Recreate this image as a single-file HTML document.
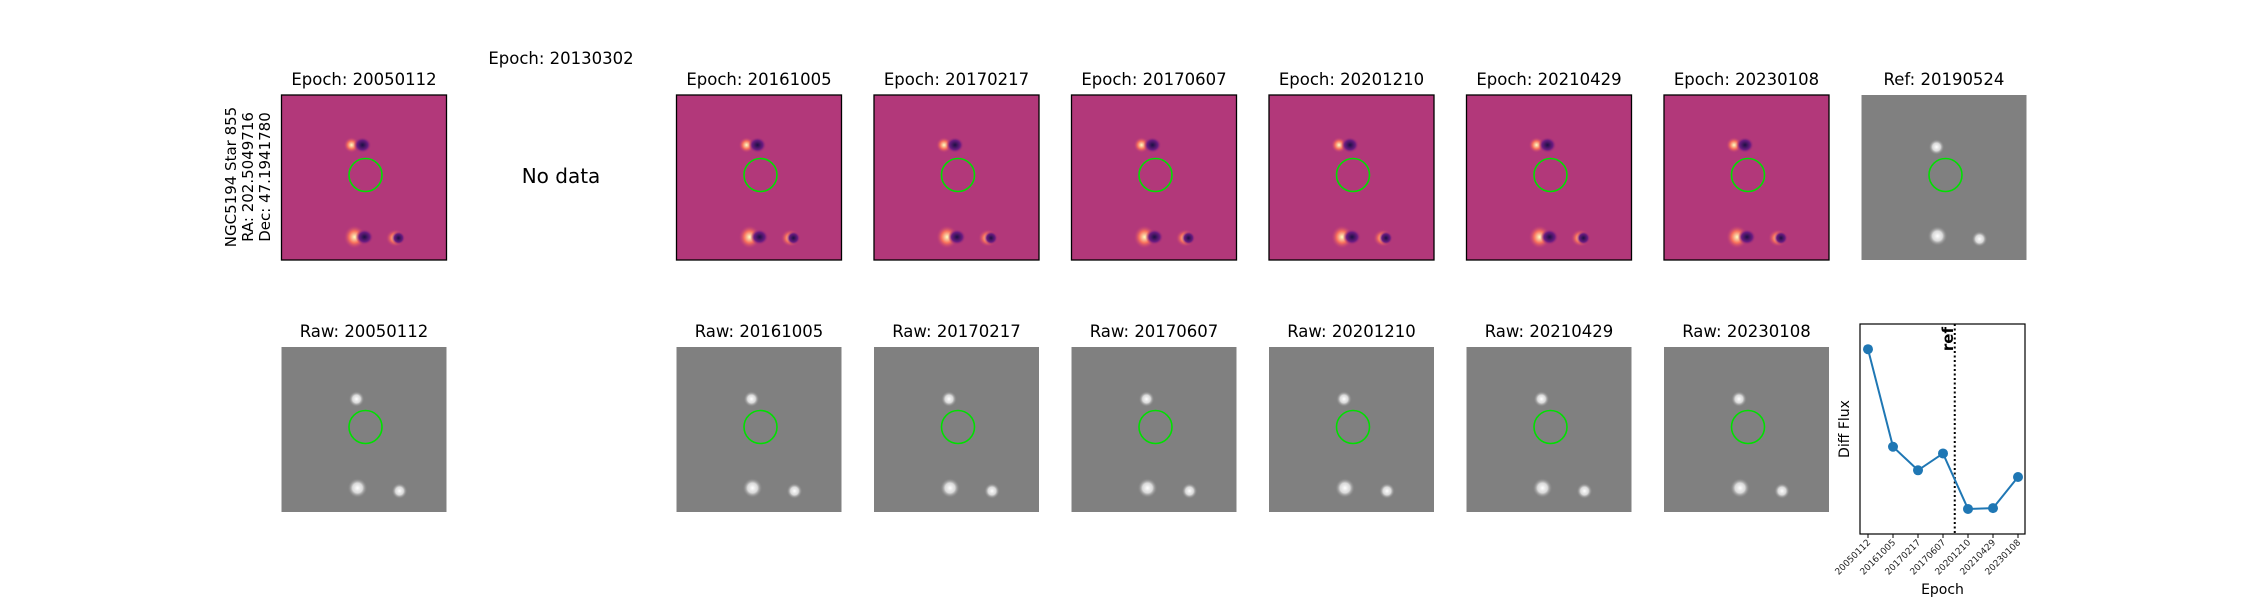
<!DOCTYPE html>
<html><head><meta charset="utf-8"><style>
html,body{margin:0;padding:0;background:#fff;}
svg{display:block;font-family:"DejaVu Sans","Liberation Sans",sans-serif;}
</style></head><body>
<svg id="fig" width="2250" height="600" viewBox="0 0 2250 600">
<defs>
<radialGradient id="bright"><stop offset="0" stop-color="#fff"/><stop offset="0.5" stop-color="#d8d8d8"/><stop offset="1" stop-color="#808080" stop-opacity="0"/></radialGradient>
<radialGradient id="hot"><stop offset="0" stop-color="#fcfdbf"/><stop offset="0.5" stop-color="#f7705c"/><stop offset="1" stop-color="#b5367a" stop-opacity="0"/></radialGradient>
<radialGradient id="cold"><stop offset="0" stop-color="#1c1044"/><stop offset="0.6" stop-color="#6a1c81"/><stop offset="1" stop-color="#b5367a" stop-opacity="0"/></radialGradient>
</defs>
<text x="0" y="0" transform="translate(236,177) rotate(-90)" text-anchor="middle" font-size="15">NGC5194 Star 855</text>
<text x="0" y="0" transform="translate(253,177) rotate(-90)" text-anchor="middle" font-size="15">RA: 202.5049716</text>
<text x="0" y="0" transform="translate(270,177) rotate(-90)" text-anchor="middle" font-size="15">Dec: 47.1941780</text>
<text x="561" y="64" text-anchor="middle" font-size="16.5">Epoch: 20130302</text>
<text x="561" y="183" text-anchor="middle" font-size="20">No data</text>
<g id="panels"></g>
<g id="lc"></g>
</svg>
<script>
const epochs=["20050112","20161005","20170217","20170607","20201210","20210429","20230108"];
const flux=[100,42,28,38,5,5.5,24];
const refIndex=3.47;
const yMin=-9.9, yMax=115;

const NS="http://www.w3.org/2000/svg";
function mk(tag,attrs,parent){const e=document.createElementNS(NS,tag);for(const k in attrs)e.setAttribute(k,attrs[k]);parent.appendChild(e);return e;}
const P=document.getElementById('panels');
const cols=[0,2,3,4,5,6,7];
function blobs(g,x,y,diff){
  if(diff){
    mk('rect',{x:x+62,y:y+42,width:16,height:16,fill:'url(#hot)'},g);
    mk('rect',{x:x+72,y:y+42,width:18,height:16,fill:'url(#cold)'},g);
    mk('rect',{x:x+62,y:y+130,width:22,height:24,fill:'url(#hot)'},g);
    mk('rect',{x:x+74,y:y+134,width:18,height:16,fill:'url(#cold)'},g);
    mk('rect',{x:x+104,y:y+134,width:20,height:18,fill:'url(#hot)'},g);
    mk('rect',{x:x+110,y:y+136,width:14,height:14,fill:'url(#cold)'},g);
  } else {
    mk('circle',{cx:x+75,cy:y+52,r:8,fill:'url(#bright)'},g);
    mk('circle',{cx:x+76,cy:y+141,r:10,fill:'url(#bright)'},g);
    mk('circle',{cx:x+118,cy:y+144,r:8,fill:'url(#bright)'},g);
  }
}
function panel(x,y,title,kind,name){
  const g=mk('g',{},P);
  
  
  const t=mk('text',{x:x+82.5,y:y-10,'text-anchor':'middle','font-size':'16.5'},g);
  t.textContent=title;
  
  
  const bg=kind==='diff'?'#b2387a':'#808080';
  mk('rect',{x:x,y:y,width:165,height:165,fill:bg},g);
  blobs(g,x,y,kind==='diff');
  if(kind==='diff') mk('rect',{x:x,y:y,width:165,height:165,fill:'none',stroke:'#000','stroke-width':1.3},g);
  const c=mk('circle',{cx:x+84,cy:y+80,r:16.5,fill:'none',stroke:'#00e000','stroke-width':1.6},g);
  
  
}
epochs.forEach((e,i)=>{
  const x=281.5+cols[i]*197.5;
  panel(x,95,'Epoch: '+e,'diff','diff-'+e);
  panel(x,347,'Raw: '+e,'raw','raw-'+e);
});
panel(1861.5,95,'Ref: 20190524','raw','ref-20190524');

// light curve
const L=document.getElementById('lc');
const ax={x0:1860,x1:2025,y0:324,y1:534};
const xs=i=>1868+i*((2018-1868)/(epochs.length-1));
const ys=v=>ax.y1-(v-yMin)/(yMax-yMin)*(ax.y1-ax.y0);
const frame=mk('rect',{x:ax.x0,y:ax.y0,width:ax.x1-ax.x0,height:ax.y1-ax.y0,fill:'#fff',stroke:'#000','stroke-width':1.2},L);


const rl=mk('line',{x1:xs(refIndex),x2:xs(refIndex),y1:ax.y0,y2:ax.y1,stroke:'#000','stroke-width':2,'stroke-dasharray':'2,2.5'},L);


const rt=mk('text',{transform:`translate(${xs(refIndex)-2},${ax.y0+3}) rotate(-90)`,'text-anchor':'end','font-size':'15','font-weight':'bold'},L);
rt.textContent='ref';


const pl=mk('polyline',{points:flux.map((v,i)=>xs(i)+','+ys(v)).join(' '),fill:'none',stroke:'#1f77b4','stroke-width':2},L);


flux.forEach((v,i)=>{
  const c=mk('circle',{cx:xs(i),cy:ys(v),r:5,fill:'#1f77b4'},L);
  
  
  mk('line',{x1:xs(i),x2:xs(i),y1:ax.y1,y2:ax.y1+4,stroke:'#000','stroke-width':1},L);
  const t=mk('text',{transform:`translate(${xs(i)+3},${ax.y1+9}) rotate(-45)`,'text-anchor':'end','font-size':'9','fill':'#222'},L);
  t.textContent=epochs[i];
  
  
});
const yl=mk('text',{transform:`translate(1849,${(ax.y0+ax.y1)/2}) rotate(-90)`,'text-anchor':'middle','font-size':'14'},L);
yl.textContent='Diff Flux';


const xl=mk('text',{x:(ax.x0+ax.x1)/2,y:594,'text-anchor':'middle','font-size':'14'},L);
xl.textContent='Epoch';


</script>
</body></html>
